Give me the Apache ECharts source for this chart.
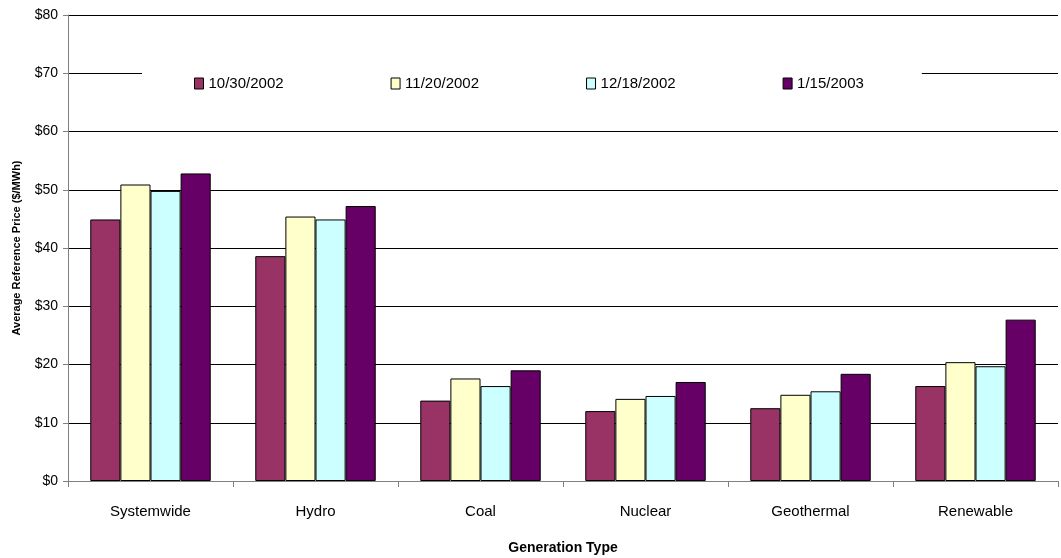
<!DOCTYPE html>
<html>
<head>
<meta charset="utf-8">
<script src="https://cdn.jsdelivr.net/npm/echarts@6/dist/echarts.min.js"></script>
<style>
  html, body { margin: 0; padding: 0; background: #fff; }
  #chart { width: 1061px; height: 558px; }
</style>
</head>
<body>
<div id="chart"></div>
<script>
// Average reference price by generation type, four auction dates
const categories = ['Systemwide', 'Hydro', 'Coal', 'Nuclear', 'Geothermal', 'Renewable'];
const seriesNames = ['10/30/2002', '11/20/2002', '12/18/2002', '1/15/2003'];
const oct30 = [44.9, 38.6, 13.8, 12.0, 12.5, 16.3];
const nov20 = [50.9, 45.4, 17.6, 14.1, 14.8, 20.4];
const dec18 = [49.8, 44.9, 16.3, 14.6, 15.4, 19.7];
const jan15 = [52.8, 47.2, 19.0, 17.0, 18.4, 27.7];
const yTicks = [0, 10, 20, 30, 40, 50, 60, 70, 80];

const colors = ['#993366', '#FFFFCC', '#CCFFFF', '#660066'];
const values = [oct30, nov20, dec18, jan15];
const font = 'Liberation Sans, Arial, sans-serif';

const chart = echarts.init(document.getElementById('chart'));
chart.setOption({
  animation: false,
  backgroundColor: '#ffffff',
  textStyle: { fontFamily: font },
  grid: { left: 68, right: 3, top: 15, bottom: 77, containLabel: false, outerBoundsMode: 'none' },
  legend: {
    data: seriesNames,
    icon: 'rect',
    left: 142,
    top: 60,
    padding: [16, 58, 16, 52],
    backgroundColor: '#ffffff',
    itemWidth: 9,
    itemHeight: 11,
    itemGap: 107,
    itemStyle: { borderColor: '#000', borderWidth: 1 },
    textStyle: { fontFamily: font, fontSize: 15, color: '#000', padding: [0, 0, 0, 0] }
  },
  xAxis: {
    type: 'category',
    data: categories,
    boundaryGap: true,
    name: 'Generation Type',
    nameLocation: 'middle',
    nameGap: 60,
    nameTextStyle: { fontFamily: font, fontSize: 14, fontWeight: 'bold', color: '#000' },
    axisLine: { lineStyle: { color: '#808080', width: 1 } },
    axisTick: { show: true, alignWithLabel: false, length: 6, lineStyle: { color: '#808080' } },
    axisLabel: { fontFamily: font, fontSize: 15, color: '#000', margin: 23 },
    splitLine: { show: false }
  },
  yAxis: {
    type: 'value',
    min: 0,
    max: 80,
    interval: 10,
    name: 'Average Reference Price ($/MWh)',
    nameLocation: 'middle',
    nameGap: 46,
    nameRotate: 90,
    nameTextStyle: { fontFamily: font, fontSize: 11, fontWeight: 'bold', color: '#000' },
    axisLine: { show: true, lineStyle: { color: '#808080', width: 1 } },
    axisTick: { show: true, length: 5, lineStyle: { color: '#808080' } },
    axisLabel: {
      fontFamily: font, fontSize: 14, color: '#000', margin: 10,
      formatter: v => yTicks.includes(v) ? '$' + v : ''
    },
    splitLine: { show: true, lineStyle: { color: '#000', width: 1 } }
  },
  series: seriesNames.map((name, i) => ({
    name,
    type: 'bar',
    data: values[i],
    barGap: '0%',
    barCategoryGap: '27%',
    itemStyle: { color: colors[i], borderColor: '#000', borderWidth: 1 }
  }))
});
</script>
</body>
</html>
